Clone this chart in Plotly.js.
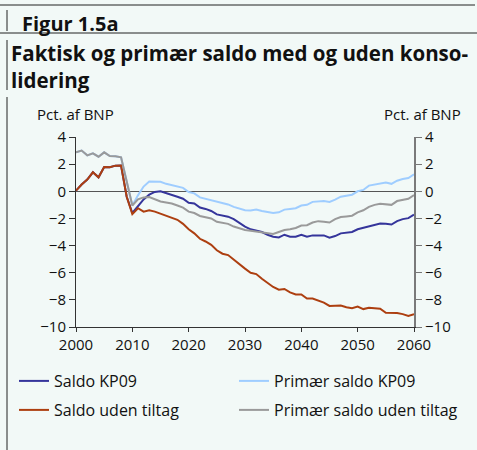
<!DOCTYPE html>
<html>
<head>
<meta charset="utf-8">
<script src="https://cdn.plot.ly/plotly-3.0.1.min.js"></script>
<style>html,body{margin:0;padding:0;background:#f2f9f7;}#chart{width:477px;height:450px;}</style>
</head>
<body>
<div id="chart"></div>
<script>
const years = [];
for (let y = 2000; y <= 2060; y++) years.push(y);

const saldoKP09 = [0.05,0.5,0.86,1.4,1.03,1.79,1.77,1.89,1.9,-0.4,
  -1.6,-1.1,-0.6,-0.25,-0.05,0.0,-0.12,-0.25,-0.4,-0.55,
  -0.85,-0.9,-1.2,-1.3,-1.45,-1.7,-1.8,-1.87,-2.05,-2.35,
  -2.6,-2.8,-2.9,-3.0,-3.2,-3.35,-3.4,-3.2,-3.35,-3.35,
  -3.2,-3.35,-3.25,-3.25,-3.25,-3.42,-3.3,-3.1,-3.05,-3.0,
  -2.8,-2.7,-2.55,-2.45,-2.38,-2.4,-2.45,-2.2,-2.05,-1.98,-1.72];

const primaerKP09 = [2.87,3.0,2.65,2.8,2.55,2.87,2.6,2.58,2.5,0.6,
  -1.05,-0.3,0.35,0.72,0.72,0.7,0.55,0.45,0.32,0.25,
  -0.05,-0.15,-0.45,-0.55,-0.7,-0.8,-0.9,-0.97,-1.15,-1.3,
  -1.4,-1.42,-1.35,-1.45,-1.55,-1.6,-1.55,-1.35,-1.3,-1.25,
  -1.05,-1.0,-0.78,-0.75,-0.72,-0.78,-0.62,-0.4,-0.32,-0.25,
  0.0,0.1,0.42,0.5,0.6,0.65,0.55,0.78,0.9,0.98,1.25];

const saldoUden = [0.05,0.5,0.86,1.4,1.03,1.79,1.77,1.89,1.9,-0.4,
  -1.68,-1.25,-1.5,-1.4,-1.5,-1.65,-1.75,-1.9,-2.1,-2.4,
  -2.8,-3.1,-3.5,-3.7,-3.95,-4.35,-4.6,-4.7,-5.05,-5.4,
  -5.7,-6.0,-6.1,-6.45,-6.75,-7.05,-7.25,-7.2,-7.45,-7.6,
  -7.6,-7.9,-7.9,-8.05,-8.2,-8.45,-8.45,-8.42,-8.55,-8.62,
  -8.5,-8.68,-8.58,-8.62,-8.65,-8.95,-8.95,-8.97,-9.05,-9.18,-9.05];

const primaerUden = [2.87,3.0,2.65,2.8,2.55,2.87,2.6,2.58,2.5,0.6,
  -1.05,-0.6,-0.45,-0.42,-0.6,-0.75,-0.82,-0.9,-1.05,-1.2,
  -1.5,-1.6,-1.82,-1.93,-2.0,-2.25,-2.35,-2.4,-2.6,-2.75,
  -2.85,-2.9,-2.95,-3.0,-3.1,-3.15,-3.0,-2.85,-2.8,-2.7,
  -2.52,-2.5,-2.3,-2.2,-2.25,-2.3,-2.05,-1.9,-1.85,-1.8,
  -1.55,-1.4,-1.15,-1.0,-0.92,-0.95,-1.0,-0.72,-0.62,-0.55,-0.28];

const seriesNames = ["Saldo KP09","Primær saldo KP09","Saldo uden tiltag","Primær saldo uden tiltag"];
const yTicks = [-10,-8,-6,-4,-2,0,2,4];
const xTicks = [2000,2010,2020,2030,2040,2050,2060];

const W = 477, H = 450;
const M = {l:76, r:63, t:137, b:123, autoexpand: false};
const PW = W - M.l - M.r, PH = H - M.t - M.b;
const px = p => (p - M.l) / PW;
const py = p => (H - M.b - p) / PH;

const FONT = "Open Sans, Noto Sans, sans-serif";

const traces = [
  {x: years, y: saldoKP09, name: seriesNames[0], mode: 'lines', line: {color: '#35359b', width: 2}, legend: 'legend'},
  {x: years, y: primaerKP09, name: seriesNames[1], mode: 'lines', line: {color: '#9fcdff', width: 2}, legend: 'legend2'},
  {x: years, y: saldoUden, name: seriesNames[2], mode: 'lines', line: {color: '#ad3f10', width: 2}, legend: 'legend3'},
  {x: years, y: primaerUden, name: seriesNames[3], mode: 'lines', line: {color: '#9a9a9a', width: 2}, legend: 'legend4', yaxis: 'y2'}
];

const line = (x0,y0,x1,y1,c,w) => ({type:'line', xref:'paper', yref:'paper', x0:px(x0), y0:py(y0), x1:px(x1), y1:py(y1), line:{color:c||'#222', width:w||1}});
const leg = (x, y) => ({orientation: 'h', x: px(x), y: py(y), xanchor: 'left', yanchor: 'middle',
  bgcolor: 'rgba(0,0,0,0)', font: {size: 16, family: FONT, color: '#111'}, itemwidth: 30});

const layout = {
  width: W, height: H,
  margin: M,
  paper_bgcolor: '#f2f9f7',
  plot_bgcolor: 'rgba(0,0,0,0)',
  font: {family: FONT, size: 15, color: '#111'},
  showlegend: true,
  xaxis: {range: [2000, 2060], tickvals: xTicks, ticks: 'outside', ticklen: 4, tickcolor: '#333',
    showline: true, linecolor: '#333', linewidth: 1, showgrid: false, zeroline: false,
    tickfont: {size: 15}, fixedrange: true},
  yaxis: {range: [-10, 4], tickvals: yTicks, ticks: 'outside', ticklen: 6, tickcolor: '#333',
    showline: true, linecolor: '#333', linewidth: 1, showgrid: false,
    zeroline: true, zerolinecolor: '#555', zerolinewidth: 1, tickfont: {size: 15}, fixedrange: true},
  yaxis2: {range: [-10, 4], tickvals: yTicks, ticks: 'outside', ticklen: 6, tickcolor: '#777',
    overlaying: 'y', side: 'right', showline: true, linecolor: '#7a7a7a', linewidth: 2,
    showgrid: false, zeroline: false, tickfont: {size: 15}, fixedrange: true},
  legend: leg(14, 381),
  legend2: leg(234, 381),
  legend3: leg(14, 410),
  legend4: leg(234, 410),
  annotations: [
    {text: '<b>Figur 1.5a</b>', xref: 'paper', yref: 'paper', x: px(20), y: py(8), xanchor: 'left', yanchor: 'top', showarrow: false, font: {size: 20, family: FONT, color: '#111'}},
    {text: '<b>Faktisk og primær saldo med og uden konso-<br>lidering</b>', xref: 'paper', yref: 'paper', x: px(9), y: py(37), xanchor: 'left', yanchor: 'top', align: 'left', showarrow: false, font: {size: 20.5, family: FONT, color: '#111'}},
    {text: 'Pct. af BNP', xref: 'paper', yref: 'paper', x: px(35), y: py(102), xanchor: 'left', yanchor: 'top', showarrow: false, font: {size: 15, family: FONT, color: '#111'}},
    {text: 'Pct. af BNP', xref: 'paper', yref: 'paper', x: px(463), y: py(102), xanchor: 'right', yanchor: 'top', showarrow: false, font: {size: 15, family: FONT, color: '#111'}}
  ],
  shapes: [
    line(0, 5, 475, 5),
    line(0, 33, 477, 33),
    line(7, 10, 7, 31),
    line(7, 40, 7, 90),
    line(7, 97, 7, 450)
  ]
};

Plotly.newPlot('chart', traces, layout, {displayModeBar: false, staticPlot: true});
</script>
</body>
</html>
